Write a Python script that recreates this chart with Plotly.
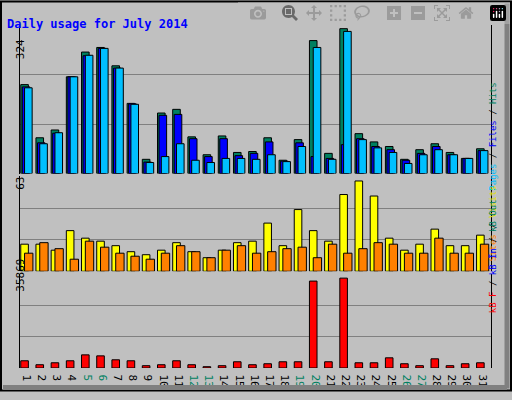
import plotly.graph_objects as go

days = list(range(1, 32))
hits = [194,78,95,211,265,275,235,153,31,132,140,80,41,82,46,48,78,29,74,290,44,316,87,69,59,31,52,65,46,33,54]
files = [189,67,88,211,257,273,230,152,25,127,129,76,37,76,39,44,69,27,67,37,33,63,76,59,52,29,44,59,41,33,50]
pages = [187,65,89,211,258,273,230,151,24,37,65,29,24,33,33,31,41,26,59,275,31,310,74,56,46,22,41,52,41,33,50]
visits = [18,18,14,27,22,20,17,13,11,14,19,13,9,14,19,20,32,17,41,27,20,51,60,50,22,14,18,28,17,17,24]
sites = [12,19,15,8,20,16,12,10,8,12,17,13,9,14,17,12,13,15,16,9,18,12,15,19,18,12,12,22,12,12,18]
kbytes = [2760,1250,2000,2760,5020,4640,3140,2760,880,1250,2760,1250,500,880,2380,1250,1630,2380,2380,33230,2380,34360,2000,2000,3890,1630,880,3510,880,1630,2000]
weekends = [5,6,12,13,19,20,26,27]
max_top, max_mid, max_bot = 324, 63, 35869

W, H = 512, 400
L, R, T, B = 20, 491, 25, 376
def px(x): return (x - L) / (R - L)
def py(y): return (B - y) / (B - T)

line = dict(color="black", width=1)
fig = go.Figure()
def bar(y, color, off, yax, w=0.5):
    fig.add_trace(go.Bar(x=days, y=y, marker=dict(color=color, line=line), offset=off, width=w,
                         yaxis=yax, xaxis="x"))
bar(hits, "#008060", -0.5, "y")
bar(files, "#0000FF", -0.4, "y")
bar(pages, "#00C0FF", -0.25, "y")
bar(visits, "#FFFF00", -0.5, "y2")
bar(sites, "#FF8000", -0.25, "y2", 0.55)
bar(kbytes, "#FF0000", -0.5, "y3")

mono = "DejaVu Sans Mono"
ticktext = [f"<span style='color:#008060'>{d}</span>" if d in weekends else str(d) for d in days]
yax = dict(showticklabels=False, showgrid=True, gridcolor="#808080", gridwidth=1, zeroline=False,
           showline=True, linecolor="black", mirror=True, ticks="")
fig.update_layout(
    width=W, height=H, barmode="overlay", showlegend=False,
    paper_bgcolor="#C0C0C0", plot_bgcolor="#C0C0C0",
    margin=dict(l=L, r=W - R, t=T, b=H - B),
    font=dict(family=mono, size=11, color="black"),
    xaxis=dict(range=[0.45, 31.45], tickvals=days, ticktext=ticktext, showgrid=False, zeroline=False,
               showline=False, ticks="", anchor="y3", tickfont=dict(size=11)),
    yaxis=dict(domain=[py(177), 1], range=[0, max_top], dtick=max_top / 3, **yax),
    yaxis2=dict(domain=[py(277), py(180)], range=[0, max_mid], dtick=max_mid / 3, **yax),
    yaxis3=dict(domain=[0, py(280)], range=[0, max_bot], dtick=max_bot / 3, **yax),
)
ann = []
ann.append(dict(x=px(5), y=py(15), text="<b>Daily usage for July 2014</b>", xanchor="left",
                font=dict(color="#0000FF", size=12, family=mono)))
for txt, yy in [(str(max_top), 38), (str(max_mid), 187), (str(max_bot), 300)]:
    ann.append(dict(x=px(12), y=py(yy), text=txt, textangle=-90, font=dict(size=11, family=mono)))
side = dict(size=9, family=mono)
ann.append(dict(x=px(500), y=py(82), textangle=-90, font=side,
                text="<span style='color:#00C0FF'>Pages</span> / <span style='color:#0000FF'>Files</span> / <span style='color:#008060'>Hits</span>"))
ann.append(dict(x=px(500), y=py(228), textangle=-90, font=side,
                text="<span style='color:#FF8000'>Sites</span> / <span style='color:#E0E000'>Visits</span>"))
ann.append(dict(x=px(500), y=py(322), textangle=-90, font=side,
                text="<span style='color:#FF0000'>kB F</span> / <span style='color:#0000FF'>kB In</span> / <span style='color:#008060'>kB Out</span>"))
for a in ann:
    a.update(xref="paper", yref="paper", showarrow=False)
fig.update_layout(annotations=ann)
shapes = [
    dict(type="rect", x0=px(1), x1=px(511), y0=py(1), y1=py(399), line=dict(color="black", width=2)),
    dict(type="line", x0=px(507), x1=px(507), y0=py(3), y1=py(397), line=dict(color="#808080", width=5)),
    dict(type="line", x0=px(3), x1=px(507), y0=py(396), y1=py(396), line=dict(color="#808080", width=5)),
]
for s in shapes:
    s.update(xref="paper", yref="paper", layer="above")
fig.update_layout(shapes=shapes)
fig.write_html("out.html", post_script="document.body.style.margin='0';window.dispatchEvent(new Event('resize'));")
